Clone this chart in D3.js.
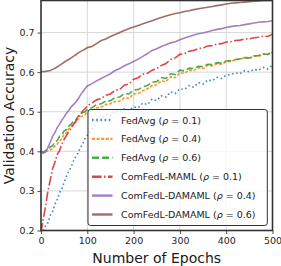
<!DOCTYPE html>
<html>
<head>
<meta charset="utf-8">
<script src="https://cdn.jsdelivr.net/npm/d3@7"></script>
<style>
  body { margin: 0; background: #fff; }
  text { font-family: "DejaVu Sans", sans-serif; }
</style>
</head>
<body>
<svg id="chart" width="281" height="266"></svg>
<script>
// data (every 5 epochs up to 100, then every 10)
const epochs = [0,5,10,15,20,25,30,35,40,45,50,55,60,65,70,75,80,85,90,95,100,
                110,120,130,140,150,160,170,180,190,200,210,220,230,240,250,260,270,280,290,300,
                310,320,330,340,350,360,370,380,390,400,410,420,430,440,450,460,470,480,490,500];

const fedAvg01 = [0.19,0.2,0.212,0.22,0.238,0.248,0.266,0.278,0.295,0.305,0.322,0.338,0.35,0.36,0.375,0.386,0.395,0.41,0.418,0.432,0.44,
                  0.455,0.472,0.48,0.494,0.49,0.502,0.498,0.507,0.503,0.512,0.51,0.522,0.518,0.532,0.528,0.54,0.537,0.55,0.546,0.558,
                  0.556,0.566,0.562,0.574,0.57,0.58,0.578,0.587,0.584,0.592,0.594,0.598,0.596,0.604,0.601,0.607,0.605,0.612,0.608,0.618];
const fedAvg04 = [0.4,0.398,0.4,0.401,0.403,0.407,0.413,0.418,0.426,0.432,0.443,0.447,0.458,0.461,0.47,0.474,0.481,0.485,0.49,0.492,0.498,
                  0.503,0.51,0.512,0.518,0.52,0.526,0.527,0.535,0.534,0.545,0.546,0.553,0.558,0.566,0.568,0.578,0.576,0.588,0.586,0.598,
                  0.597,0.605,0.604,0.611,0.609,0.617,0.616,0.621,0.62,0.626,0.627,0.631,0.633,0.636,0.634,0.641,0.64,0.646,0.644,0.651];
const fedAvg06 = [0.4,0.397,0.402,0.404,0.411,0.414,0.424,0.427,0.438,0.441,0.452,0.455,0.464,0.468,0.477,0.479,0.488,0.49,0.498,0.499,0.506,
                  0.51,0.518,0.52,0.527,0.528,0.536,0.537,0.546,0.545,0.555,0.556,0.563,0.566,0.575,0.576,0.586,0.584,0.596,0.594,0.605,
                  0.603,0.61,0.609,0.615,0.614,0.62,0.619,0.624,0.623,0.628,0.629,0.632,0.634,0.637,0.636,0.641,0.642,0.645,0.646,0.65];
const comFedMaml01 = [0.195,0.23,0.262,0.3,0.328,0.356,0.372,0.392,0.402,0.418,0.43,0.44,0.45,0.458,0.468,0.476,0.487,0.492,0.502,0.507,0.515,
                      0.522,0.53,0.533,0.542,0.545,0.554,0.556,0.567,0.57,0.582,0.586,0.595,0.597,0.605,0.609,0.617,0.622,0.632,0.636,0.645,
                      0.647,0.653,0.655,0.66,0.661,0.666,0.667,0.671,0.672,0.676,0.677,0.68,0.681,0.684,0.684,0.687,0.688,0.691,0.69,0.696];
const damaml04 = [0.4,0.395,0.398,0.41,0.423,0.438,0.447,0.46,0.468,0.479,0.487,0.496,0.503,0.512,0.518,0.524,0.532,0.542,0.55,0.558,0.565,
                  0.571,0.578,0.584,0.59,0.596,0.604,0.609,0.616,0.621,0.627,0.633,0.64,0.647,0.655,0.659,0.665,0.669,0.674,0.677,0.682,
                  0.686,0.69,0.694,0.697,0.699,0.702,0.705,0.708,0.71,0.713,0.715,0.717,0.718,0.72,0.722,0.724,0.726,0.727,0.728,0.73];
const damaml06 = [0.602,0.601,0.602,0.603,0.604,0.607,0.61,0.613,0.617,0.621,0.625,0.629,0.632,0.636,0.64,0.644,0.648,0.652,0.655,0.658,0.662,
                  0.665,0.672,0.68,0.684,0.69,0.695,0.7,0.705,0.71,0.714,0.718,0.722,0.726,0.73,0.734,0.738,0.742,0.745,0.748,0.75,
                  0.753,0.755,0.758,0.76,0.762,0.764,0.766,0.768,0.77,0.772,0.774,0.775,0.776,0.777,0.778,0.779,0.78,0.781,0.781,0.782];

const seriesNames = ["FedAvg", "FedAvg", "FedAvg", "ComFedL-MAML", "ComFedL-DAMAML", "ComFedL-DAMAML"];
const seriesRho = ["0.1", "0.4", "0.6", "0.1", "0.4", "0.6"];
const seriesValues = [fedAvg01, fedAvg04, fedAvg06, comFedMaml01, damaml04, damaml06];

const xTicks = [0, 100, 200, 300, 400, 500];
const yTicks = [0.2, 0.3, 0.4, 0.5, 0.6, 0.7];

// styles
const colors = ["#1f77b4", "#ff7f0e", "#2ca02c", "#d62728", "#9467bd", "#8c564b"];
const dashes = ["1.6 2.6", "3 1.6", "7 3", "9.6 2.4 1.5 2.4", null, null];

let width = 281, height = 266;
let margin = {left: 41, right: 8.5, top: 0.5, bottom: 35.5};

let svg = d3.select("#chart");

let x = d3.scaleLinear().domain([0, 500]).range([margin.left, width - margin.right]);
let y = d3.scaleLinear().domain([0.2, 0.781]).range([height - margin.bottom, margin.top]);

svg.append("defs").append("clipPath").attr("id", "plotClip")
    .append("rect")
    .attr("x", x(0)).attr("y", y(0.781))
    .attr("width", x(500) - x(0)).attr("height", y(0.2) - y(0.781));

// grid
let grid = svg.append("g");
grid.selectAll(".gx").data(xTicks.slice(1, -1)).join("line")
    .attr("class", "gx")
    .attr("x1", d => x(d)).attr("x2", d => x(d))
    .attr("y1", y(0.781)).attr("y2", y(0.2))
    .attr("stroke", "#d3d3d3").attr("stroke-width", 0.9);
grid.selectAll(".gy").data(yTicks.slice(1)).join("line")
    .attr("class", "gy")
    .attr("x1", x(0)).attr("x2", x(500))
    .attr("y1", d => y(d)).attr("y2", d => y(d))
    .attr("stroke", "#d3d3d3").attr("stroke-width", 0.9);

// curves
let line = d3.line()
    .x((d, i) => x(epochs[i]))
    .y(d => y(d));

svg.append("g").attr("clip-path", "url(#plotClip)")
    .selectAll("path").data(seriesValues).join("path")
    .attr("d", line)
    .attr("fill", "none")
    .attr("stroke", (d, i) => colors[i])
    .attr("stroke-opacity", 0.85)
    .attr("stroke-width", 1.6)
    .attr("stroke-dasharray", (d, i) => dashes[i]);

// axes
let xAxis = d3.axisBottom(x).tickValues(xTicks).tickSize(3.5).tickPadding(3).tickFormat(d3.format("d"));
let yAxis = d3.axisLeft(y).tickValues(yTicks).tickSize(3.5).tickPadding(3).tickFormat(d3.format(".1f"));

let xg = svg.append("g").attr("transform", `translate(0,${y(0.2)})`).call(xAxis);
let yg = svg.append("g").attr("transform", `translate(${x(0)},0)`).call(yAxis);

[xg, yg].forEach(g => {
    g.select(".domain").remove();
    g.selectAll("line").attr("stroke", "#333").attr("stroke-width", 0.9);
    g.selectAll("text").attr("font-size", 9.5).attr("fill", "#262626")
        .attr("font-family", "DejaVu Sans, sans-serif");
});

// frame
svg.append("rect")
    .attr("x", x(0)).attr("y", y(0.781))
    .attr("width", x(500) - x(0)).attr("height", y(0.2) - y(0.781))
    .attr("fill", "none").attr("stroke", "#333").attr("stroke-width", 1.6);

// axis labels
svg.append("text")
    .attr("x", (x(0) + x(500)) / 2).attr("y", 262.5)
    .attr("text-anchor", "middle").attr("font-size", 14).attr("fill", "#1a1a1a")
    .text("Number of Epochs");

svg.append("text")
    .attr("transform", `translate(13.5,${(y(0.2) + y(0.781)) / 2}) rotate(-90)`)
    .attr("text-anchor", "middle").attr("font-size", 14).attr("fill", "#1a1a1a")
    .text("Validation Accuracy");

// legend
let legend = svg.append("g");
legend.append("rect")
    .attr("x", 88).attr("y", 109.5)
    .attr("width", 179.3).attr("height", 116)
    .attr("rx", 2.5)
    .attr("fill", "#fff").attr("fill-opacity", 0.8)
    .attr("stroke", "#333").attr("stroke-width", 1);

let rows = legend.selectAll(".row").data(seriesNames).join("g")
    .attr("transform", (d, i) => `translate(0,${120 + i * 18.9})`);

rows.append("line")
    .attr("x1", 92).attr("x2", 112.5)
    .attr("stroke", (d, i) => colors[i])
    .attr("stroke-opacity", 0.85)
    .attr("stroke-width", 2.4)
    .attr("stroke-dasharray", (d, i) => dashes[i]);

let label = rows.append("text")
    .attr("x", 121).attr("y", 3.5)
    .attr("font-size", 9.5).attr("fill", "#1a1a1a");
label.append("tspan").text(d => d + " (");
label.append("tspan").attr("font-style", "italic").text("\u03c1");
label.append("tspan").text((d, i) => " = " + seriesRho[i] + ")");
</script>
</body>
</html>
